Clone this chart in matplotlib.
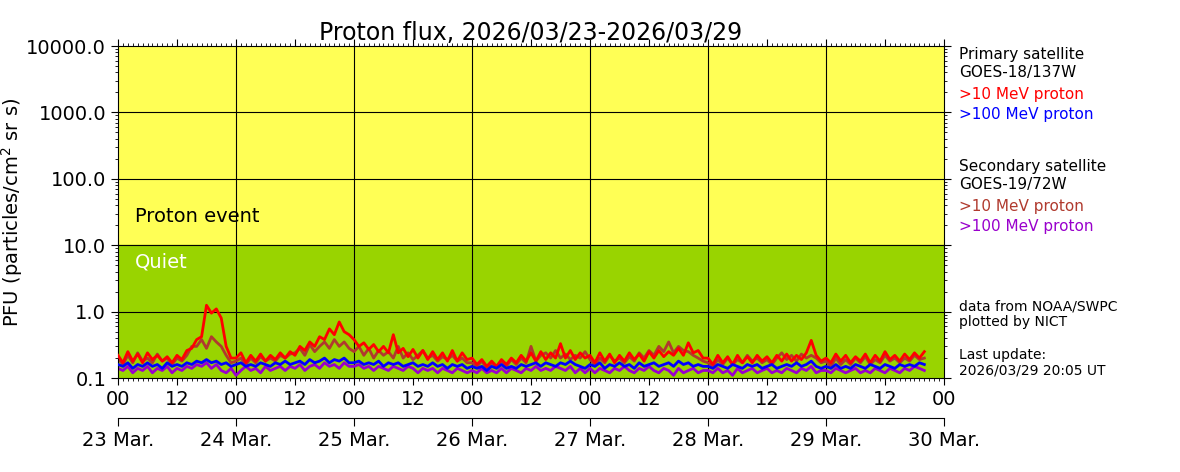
import numpy as np
import matplotlib
matplotlib.use('Agg')
import matplotlib.pyplot as plt
from matplotlib.ticker import FixedLocator, MultipleLocator, LogLocator, NullFormatter

# hourly readings (PFU), 23 Mar 00 UT .. 29 Mar 20 UT
g18_p10 = [
    0.22, 0.17, 0.25, 0.18, 0.23, 0.17, 0.24, 0.19, 0.22, 0.18, 0.21, 0.17, 0.22, 0.19, 0.26, 0.28, 0.38, 0.42, 1.25, 0.95, 1.10, 0.80, 0.30, 0.20,
    0.20, 0.24, 0.17, 0.22, 0.18, 0.23, 0.18, 0.22, 0.19, 0.24, 0.20, 0.25, 0.22, 0.30, 0.26, 0.35, 0.30, 0.42, 0.38, 0.55, 0.45, 0.70, 0.50, 0.45,
    0.38, 0.30, 0.34, 0.27, 0.32, 0.25, 0.30, 0.24, 0.45, 0.24, 0.28, 0.21, 0.27, 0.20, 0.26, 0.19, 0.25, 0.19, 0.24, 0.18, 0.26, 0.18, 0.24, 0.19,
    0.20, 0.16, 0.19, 0.15, 0.18, 0.15, 0.19, 0.16, 0.20, 0.17, 0.22, 0.18, 0.24, 0.18, 0.25, 0.19, 0.24, 0.20, 0.33, 0.20, 0.26, 0.19, 0.24, 0.20,
    0.22, 0.17, 0.24, 0.18, 0.23, 0.17, 0.22, 0.18, 0.24, 0.19, 0.23, 0.18, 0.25, 0.20, 0.26, 0.21, 0.25, 0.22, 0.28, 0.22, 0.34, 0.24, 0.26, 0.20,
    0.20, 0.16, 0.22, 0.17, 0.21, 0.16, 0.22, 0.17, 0.21, 0.17, 0.22, 0.18, 0.21, 0.17, 0.22, 0.18, 0.23, 0.18, 0.22, 0.19, 0.24, 0.37, 0.22, 0.18,
    0.20, 0.17, 0.23, 0.18, 0.22, 0.17, 0.21, 0.18, 0.23, 0.17, 0.22, 0.18, 0.25, 0.19, 0.22, 0.18, 0.23, 0.19, 0.24, 0.20, 0.25,
]
g18_p100 = [
    0.16, 0.15, 0.17, 0.14, 0.16, 0.15, 0.17, 0.15, 0.16, 0.14, 0.17, 0.15, 0.16, 0.15, 0.17, 0.16, 0.18, 0.17, 0.19, 0.17, 0.18, 0.16, 0.17, 0.15,
    0.16, 0.17, 0.15, 0.16, 0.15, 0.17, 0.16, 0.15, 0.17, 0.16, 0.18, 0.16, 0.17, 0.18, 0.16, 0.19, 0.17, 0.18, 0.20, 0.17, 0.19, 0.18, 0.20, 0.17,
    0.17, 0.18, 0.16, 0.17, 0.16, 0.18, 0.15, 0.17, 0.16, 0.17, 0.15, 0.16, 0.17, 0.15, 0.16, 0.15, 0.17, 0.15, 0.16, 0.14, 0.16, 0.15, 0.16, 0.14,
    0.15, 0.14, 0.15, 0.13, 0.15, 0.14, 0.16, 0.14, 0.15, 0.14, 0.16, 0.15, 0.16, 0.17, 0.15, 0.17, 0.16, 0.15, 0.17, 0.16, 0.18, 0.16, 0.15, 0.14,
    0.16, 0.15, 0.17, 0.14, 0.16, 0.15, 0.17, 0.15, 0.16, 0.14, 0.17, 0.15, 0.16, 0.17, 0.15, 0.16, 0.17, 0.15, 0.18, 0.16, 0.17, 0.15, 0.16, 0.15,
    0.15, 0.14, 0.16, 0.15, 0.14, 0.16, 0.15, 0.14, 0.16, 0.15, 0.16, 0.14, 0.15, 0.16, 0.14, 0.15, 0.16, 0.15, 0.17, 0.15, 0.16, 0.18, 0.15, 0.14,
    0.15, 0.14, 0.16, 0.14, 0.15, 0.14, 0.16, 0.15, 0.14, 0.16, 0.15, 0.14, 0.16, 0.15, 0.14, 0.16, 0.15, 0.16, 0.15, 0.17, 0.16,
]
g19_p10 = [
    0.20, 0.16, 0.22, 0.17, 0.24, 0.18, 0.20, 0.17, 0.23, 0.18, 0.20, 0.16, 0.20, 0.18, 0.22, 0.30, 0.30, 0.38, 0.28, 0.42, 0.35, 0.30, 0.22, 0.17,
    0.18, 0.20, 0.16, 0.20, 0.17, 0.21, 0.18, 0.20, 0.18, 0.22, 0.20, 0.23, 0.24, 0.28, 0.22, 0.32, 0.25, 0.30, 0.35, 0.28, 0.38, 0.30, 0.35, 0.28,
    0.25, 0.30, 0.22, 0.28, 0.20, 0.26, 0.22, 0.25, 0.20, 0.30, 0.20, 0.24, 0.19, 0.22, 0.26, 0.20, 0.22, 0.18, 0.21, 0.19, 0.22, 0.18, 0.20, 0.17,
    0.17, 0.15, 0.18, 0.14, 0.17, 0.15, 0.18, 0.15, 0.19, 0.16, 0.20, 0.17, 0.30, 0.18, 0.22, 0.24, 0.20, 0.26, 0.20, 0.23, 0.19, 0.22, 0.20, 0.25,
    0.19, 0.16, 0.20, 0.17, 0.22, 0.18, 0.20, 0.17, 0.21, 0.18, 0.24, 0.20, 0.26, 0.22, 0.30, 0.25, 0.35, 0.24, 0.30, 0.26, 0.25, 0.22, 0.20, 0.18,
    0.17, 0.15, 0.19, 0.16, 0.20, 0.16, 0.19, 0.17, 0.22, 0.18, 0.20, 0.17, 0.19, 0.16, 0.20, 0.24, 0.19, 0.22, 0.18, 0.23, 0.20, 0.22, 0.20, 0.17,
    0.18, 0.15, 0.20, 0.16, 0.19, 0.16, 0.20, 0.17, 0.21, 0.16, 0.19, 0.17, 0.22, 0.18, 0.20, 0.17, 0.20, 0.18, 0.22, 0.19, 0.20,
]
g19_p100 = [
    0.14, 0.13, 0.15, 0.12, 0.14, 0.13, 0.15, 0.12, 0.14, 0.13, 0.15, 0.12, 0.14, 0.13, 0.15, 0.14, 0.16, 0.15, 0.17, 0.14, 0.16, 0.13, 0.12, 0.14,
    0.11, 0.13, 0.15, 0.13, 0.14, 0.12, 0.15, 0.13, 0.14, 0.15, 0.13, 0.15, 0.14, 0.16, 0.13, 0.15, 0.16, 0.14, 0.17, 0.15, 0.16, 0.14, 0.17, 0.15,
    0.15, 0.16, 0.14, 0.15, 0.13, 0.15, 0.14, 0.13, 0.15, 0.14, 0.13, 0.15, 0.14, 0.12, 0.14, 0.13, 0.14, 0.12, 0.14, 0.13, 0.12, 0.14, 0.13, 0.12,
    0.13, 0.12, 0.14, 0.12, 0.13, 0.12, 0.14, 0.12, 0.14, 0.13, 0.12, 0.14, 0.13, 0.15, 0.13, 0.14, 0.13, 0.15, 0.14, 0.13, 0.15, 0.12, 0.14, 0.12,
    0.14, 0.12, 0.14, 0.13, 0.12, 0.14, 0.13, 0.15, 0.13, 0.12, 0.14, 0.13, 0.15, 0.13, 0.12, 0.14, 0.13, 0.11, 0.14, 0.12, 0.13, 0.14, 0.12, 0.13,
    0.13, 0.12, 0.14, 0.12, 0.13, 0.11, 0.14, 0.12, 0.13, 0.14, 0.12, 0.13, 0.14, 0.12, 0.13, 0.12, 0.14, 0.13, 0.12, 0.14, 0.13, 0.15, 0.12, 0.13,
    0.13, 0.12, 0.14, 0.13, 0.12, 0.13, 0.14, 0.12, 0.13, 0.12, 0.14, 0.13, 0.12, 0.14, 0.13, 0.12, 0.14, 0.13, 0.15, 0.14, 0.13,
]
day_labels = ['23 Mar.', '24 Mar.', '25 Mar.', '26 Mar.', '27 Mar.', '28 Mar.', '29 Mar.', '30 Mar.']
ytick_vals = [0.1, 1, 10, 100, 1000, 10000]

hours = np.arange(len(g18_p10))

fig = plt.figure(figsize=(11.8, 4.72), dpi=100)
ax = fig.add_axes([0.1, 0.199, 0.7, 0.7035])

ax.axhspan(10, 10000, color='#ffff55', zorder=0)
ax.axhspan(0.1, 10, color='#99d400', zorder=0)

lw = 2.0
ax.plot(hours, g19_p10, color='#b03a2e', lw=lw, zorder=2)
ax.plot(hours, g19_p100, color='#9900cc', lw=lw, zorder=2)
ax.plot(hours, g18_p10, color='#ff0000', lw=lw, zorder=3)
ax.plot(hours, g18_p100, color='#0000ff', lw=lw, zorder=3)

ax.set_yscale('log')
ax.set_ylim(0.1, 10000)
ax.set_xlim(0, 168)
ax.set_yticks(ytick_vals)
ax.set_yticklabels(['%.1f' % v for v in ytick_vals])
ax.yaxis.set_minor_locator(LogLocator(base=10, subs=np.arange(2, 10)))
ax.yaxis.set_minor_formatter(NullFormatter())

ax.xaxis.set_minor_locator(MultipleLocator(1))
ax.set_xticks(np.arange(0, 169, 12))
ax.set_xticklabels(['00' if h % 24 == 0 else '12' for h in range(0, 169, 12)])

ax.tick_params(axis='both', which='major', labelsize=14, length=5, top=True, right=True)
ax.tick_params(axis='both', which='minor', length=2.5, top=True, right=True)

# grid: one vertical line per day, horizontal per decade
for d in range(1, 7):
    ax.axvline(d * 24, color='black', lw=0.8, zorder=1)
for v in ytick_vals[1:-1]:
    ax.axhline(v, color='black', lw=0.8, zorder=1)

ax.set_ylabel('PFU (particles/cm$^2$ sr s)', fontsize=14)
ax.yaxis.set_label_coords(-0.113, 0.5)
ax.set_title('Proton flux, 2026/03/23-2026/03/29', fontsize=17, pad=4)

ax.text(3.5, 27, 'Proton event', fontsize=14, color='black', va='center')
ax.text(3.5, 5.5, 'Quiet', fontsize=14, color='white', va='center')

sec = ax.secondary_xaxis(-0.12)
sec.set_xticks(np.arange(0, 169, 24))
sec.set_xticklabels(day_labels)
sec.tick_params(labelsize=14, length=6)
sec.xaxis.set_minor_locator(FixedLocator([]))

side = [
    ('Primary satellite', 54, 'black'),
    ('GOES-18/137W', 72, 'black'),
    ('>10 MeV proton', 94, '#ff0000'),
    ('>100 MeV proton', 114, '#0000ff'),
    ('Secondary satellite', 166, 'black'),
    ('GOES-19/72W', 184, 'black'),
    ('>10 MeV proton', 206, '#b03a2e'),
    ('>100 MeV proton', 226, '#9900cc'),
    ('data from NOAA/SWPC', 307, 'black'),
    ('plotted by NICT', 322, 'black'),
    ('Last update:', 355, 'black'),
    ('2026/03/29 20:05 UT', 370, 'black'),
]
for txt, ypx, col in side:
    fs = 11 if ypx < 250 else 10
    fig.text(959 / 1180, 1 - ypx / 472, txt, color=col, fontsize=fs, va='center', ha='left')

fig.savefig('out.png', dpi=100)
